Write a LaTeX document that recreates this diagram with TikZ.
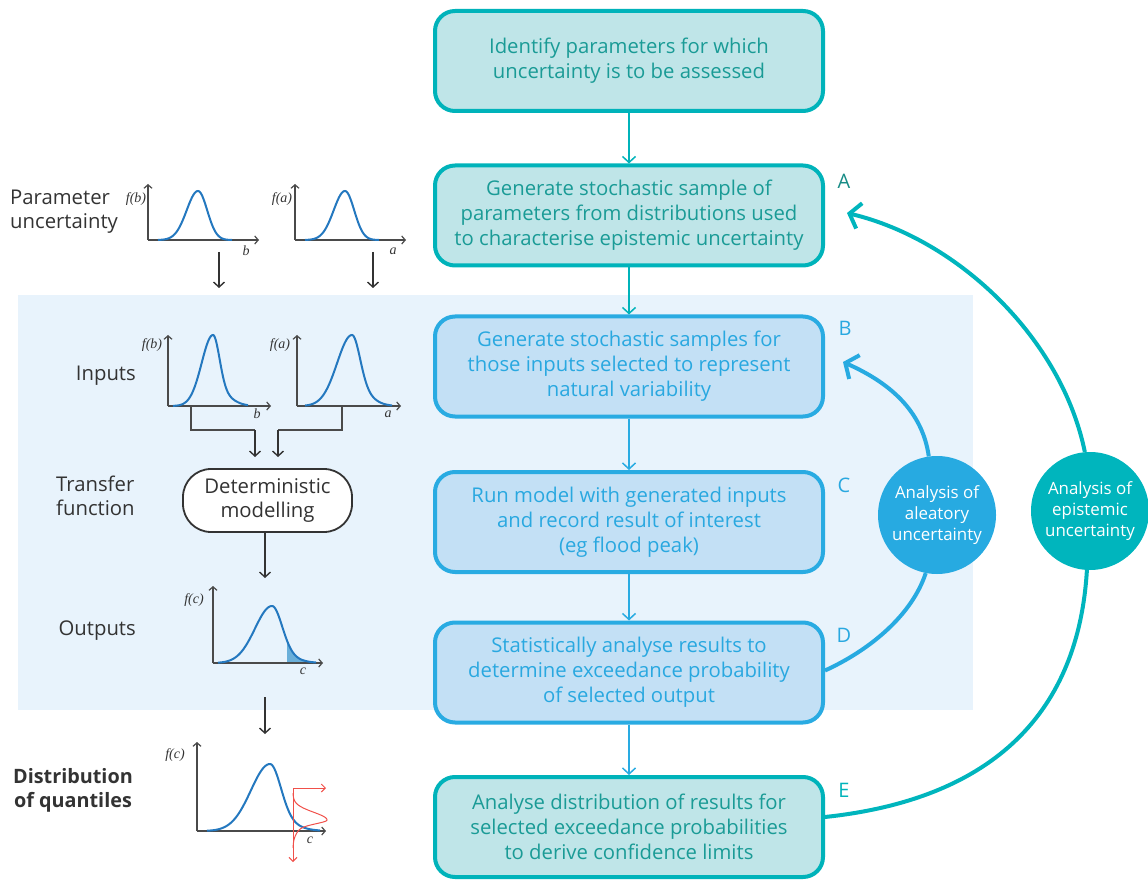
\documentclass[tikz,border=0pt]{standalone}
\usepackage{fontspec}
\setmainfont{Open Sans}
\newfontfamily\plotfont{Liberation Serif}
\usetikzlibrary{arrows.meta}
\definecolor{tealB}{HTML}{00B3BA}
\definecolor{tealF}{HTML}{BFE5E8}
\definecolor{tealT}{HTML}{1A9B96}
\definecolor{tealL}{HTML}{178C86}
\definecolor{blueB}{HTML}{29ABE2}
\definecolor{blueF}{HTML}{C3E0F5}
\definecolor{blueT}{HTML}{29A8E0}
\definecolor{bgblue}{HTML}{E8F3FC}
\definecolor{curveblue}{HTML}{2478BF}
\definecolor{tailblue}{HTML}{6AAFD9}
\definecolor{dark}{HTML}{333333}
\definecolor{axisg}{HTML}{4A4A4A}
\definecolor{redc}{HTML}{F0504A}
\definecolor{circA}{HTML}{27AAE1}
\definecolor{circE}{HTML}{00B5BD}
\tikzset{
  stepbox/.style={rounded corners=20pt, line width=4pt, minimum width=388pt, minimum height=100pt, align=center, font=\fontsize{20.3}{25}\selectfont, inner sep=0pt},
  tbox/.style={stepbox, draw=tealB, fill=tealF, text=tealT},
  bbox/.style={stepbox, draw=blueB, fill=blueF, text=blueT},
  flowt/.style={line width=1.5pt, draw=tealB, -{Straight Barb[length=6pt,width=13pt,line width=1.5pt]}},
  flowb/.style={line width=1.5pt, draw=blueB, -{Straight Barb[length=6pt,width=13pt,line width=1.5pt]}},
  blk/.style={line width=1.4pt, draw=dark, -{Straight Barb[length=5pt,width=11pt,line width=1.4pt]}},
  link/.style={line width=1.2pt, draw=axisg},
  axis/.style={line width=1.3pt, draw=axisg, -{Straight Barb[length=3.5pt,width=8pt,line width=1.2pt]}},
  pdf/.style={line width=2pt, draw=curveblue},
  sidelabel/.style={font=\fontsize{20.3}{24}\selectfont, text=dark, align=left, inner sep=0pt},
  plotlab/.style={font=\plotfont\itshape\fontsize{14}{15}\selectfont, text=dark, inner sep=0pt},
  letter/.style={font=\fontsize{20}{22}\selectfont, inner sep=0pt},
  circ/.style={circle, minimum size=118pt, inner sep=0pt, text=white, align=center, font=\fontsize{16.9}{21}\selectfont},
  bigarc/.style={line width=4pt, -{Straight Barb[length=10pt,width=26pt,line width=4pt]}},
}
\begin{document}
\begin{tikzpicture}[x=1pt,y=-1pt]
\useasboundingbox (0,0) rectangle (1148,882);
\fill[bgblue] (18,295) rectangle (973,710);

% main boxes
\node[tbox] (s1) at (629,61) {Identify parameters for which\\uncertainty is to be assessed};
\node[tbox] (A) at (629,215.5) {Generate stochastic sample of\\parameters from distributions used\\to characterise epistemic uncertainty};
\node[bbox] (B) at (629,366.5) {Generate stochastic samples for\\those inputs selected to represent\\natural variability};
\node[bbox] (C) at (629,522) {Run model with generated inputs\\and record result of interest\\(eg flood peak)};
\node[bbox] (D) at (629,672.5) {Statistically analyse results to\\determine exceedance probability\\of selected output};
\node[tbox] (E) at (629,827) {Analyse distribution of results for\\selected exceedance probabilities\\to derive confidence limits};

\draw[flowt] (s1.south) -- (A.north);
\draw[flowt] (A.south) -- (B.north);
\draw[flowb] (B.south) -- (C.north);
\draw[flowb] (C.south) -- (D.north);
\draw[flowb] (D.south) -- (E.north);

% letters
\node[letter, text=tealL] (lA) at (844,181) {A};
\node[letter, text=blueT] (lB) at (845,328) {B};
\node[letter, text=blueT] (lC) at (844,485) {C};
\node[letter, text=blueT] (lD) at (844,635) {D};
\node[letter, text=tealB] (lE) at (844,790) {E};

% circles
\node[circ, fill=circA] (al) at (937,515) {Analysis of\\aleatory\\uncertainty};
\node[circ, fill=circE] (ep) at (1090,511) {Analysis of\\epistemic\\uncertainty};
\coordinate (tipA) at (847,213);
\coordinate (tipB) at (843,362);
\draw[bigarc, draw=circE] (ep.95) .. controls (1062,340) and (960,240) .. (tipA);
\draw[bigarc, draw=circA] (al.98) .. controls (923,415) and (895,385) .. (tipB);
\draw[line width=4pt, draw=circA] (al.-101) .. controls (912,615) and (870,650) .. ([yshift=2pt]D.east);
\draw[line width=4pt, draw=circE] (ep.-93) .. controls (1078,720) and (985,800) .. ([yshift=10pt]E.east);

% left labels
\node[sidelabel, anchor=west] (lpar) at (10,212) {Parameter\\uncertainty};
\node[sidelabel, anchor=east] (linp) at (136,376) {Inputs};
\node[sidelabel, anchor=west] (ltra) at (56,496) {Transfer\\function};
\node[sidelabel, anchor=east] (lout) at (136,631) {Outputs};
\node[sidelabel, align=center, font=\bfseries\fontsize{19.8}{24}\selectfont] (ldis) at (73,790) {Distribution\\of quantiles};

% parameter plot b
\coordinate (pb) at (148,240);
\draw[axis] (pb) -- (148,184);
\draw[axis] (pb) -- (259,240);
\draw[pdf] plot[domain=158:198,samples=40] (\x,{240-49*exp(-((\x-198)/16)^2)})
  -- plot[domain=198:232,samples=40] (\x,{240-49*exp(-((\x-198)/13)^2)});
\node[plotlab] (tfb1) at (136,199) {f(b)};
\node[plotlab] (tb1) at (246,251) {b};
% parameter plot a
\coordinate (pa) at (295,240);
\draw[axis] (pa) -- (295,184);
\draw[axis] (pa) -- (406,240);
\draw[pdf] plot[domain=305:345,samples=40] (\x,{240-49*exp(-((\x-345)/16)^2)})
  -- plot[domain=345:379,samples=40] (\x,{240-49*exp(-((\x-345)/13)^2)});
\node[plotlab] (tfa1) at (282,199) {f(a)};
\node[plotlab] (ta1) at (393,251) {a};

\coordinate (pb1) at (219,252); \coordinate (pb2) at (219,288);
\coordinate (pa1) at (373,252); \coordinate (pa2) at (373,288);
\draw[blk] (pb1) -- (pb2);
\draw[blk] (pa1) -- (pa2);

% input plot b
\coordinate (ib) at (168,406);
\draw[axis] (ib) -- (168,335);
\draw[axis] (ib) -- (271,406);
\draw[pdf] plot[domain=173:213,samples=40] (\x,{406-71*exp(-((\x-213)/16)^2)})
  -- plot[domain=213:248,samples=50] (\x,{406-71*(0.75*exp(-((\x-213)/9)^2)+0.25*exp(-((\x-213)/20)^2))});
\node[plotlab] (tfb2) at (152,345) {f(b)};
\node[plotlab] (tb2) at (257,414) {b};
% input plot a
\coordinate (ia) at (297,406);
\draw[axis] (ia) -- (297,335);
\draw[axis] (ia) -- (401,406);
\draw[pdf] plot[domain=305:352,samples=40] (\x,{406-71*exp(-((\x-352)/21)^2)})
  -- plot[domain=352:392,samples=50] (\x,{406-71*(0.7*exp(-((\x-352)/11)^2)+0.3*exp(-((\x-352)/21)^2))});
\node[plotlab] (tfa2) at (280,345) {f(a)};
\node[plotlab] (ta2) at (388,414) {a};

% deterministic box
\node[draw=dark, line width=1.8pt, rounded corners=28pt, minimum width=169pt, minimum height=63pt, align=center, fill=white, text=dark, font=\fontsize{20.3}{24}\selectfont, inner sep=0pt] (det) at (267.5,500.5) {Deterministic\\modelling};
\coordinate (ib1) at (191,406); \coordinate (ib2) at (255,430); \coordinate (ib3) at (255,457);
\coordinate (ia1) at (342,406); \coordinate (ia2) at (278,430); \coordinate (ia3) at (278,457);
\draw[link] (ib1) |- (ib2);
\draw[blk, line width=1.2pt] (ib2) -- (ib3);
\draw[link] (ia1) |- (ia2);
\draw[blk, line width=1.2pt] (ia2) -- (ia3);
\coordinate (dt1) at (265,578);
\draw[blk] ([xshift=-2.5pt]det.south) -- (dt1);

% output plot
\coordinate (oc) at (213,663);
\fill[tailblue] plot[domain=287:315,samples=30] (\x,{663-57*(0.8*exp(-((\x-272)/14)^2)+0.2*exp(-((\x-272)/25)^2))}) -- (315,663) -- (287,663) -- cycle;
\draw[axis] (oc) -- (213,586);
\draw[axis] (oc) -- (323,663);
\draw[pdf] plot[domain=218:272,samples=50] (\x,{663-57*exp(-((\x-272)/24)^2)})
  -- plot[domain=272:316,samples=50] (\x,{663-57*(0.8*exp(-((\x-272)/14)^2)+0.2*exp(-((\x-272)/25)^2))});
\node[plotlab] (tfc1) at (194,600) {f(c)};
\node[plotlab] (tc1) at (303,671) {c};

\coordinate (oc1) at (265,697); \coordinate (oc2) at (265,734);
\draw[blk] (oc1) -- (oc2);

% distribution plot
\coordinate (dc) at (197,831);
\draw[axis] (dc) -- (197,742);
\draw[axis] (dc) -- (326,831);
\draw[pdf] plot[domain=207:270,samples=50] (\x,{831-67*exp(-((\x-270)/27)^2)})
  -- plot[domain=270:320,samples=50] (\x,{831-67*(0.8*exp(-((\x-270)/15)^2)+0.2*exp(-((\x-270)/28)^2))});
\node[plotlab] (tfc2) at (175,755) {f(c)};
\node[plotlab] (tc2) at (310,840) {c};
\coordinate (rq) at (293,788);
\coordinate (rq1) at (293,862);
\coordinate (rq2) at (326,788);
\draw[line width=1pt, draw=redc, -{Straight Barb[length=4pt,width=8pt,line width=1pt]}] (rq) -- (rq1);
\draw[line width=1pt, draw=redc, -{Straight Barb[length=4pt,width=8pt,line width=1pt]}] (rq) -- (rq2);
\draw[line width=1pt, draw=redc] plot[domain=793:820,samples=40] ({293+34*exp(-((\x-820)/11)^2)},\x)
  -- plot[domain=820:848,samples=40] ({293+34*(0.7*exp(-((\x-820)/5)^2)+0.3*exp(-((\x-820)/13)^2))},\x);
\end{tikzpicture}
\end{document}
